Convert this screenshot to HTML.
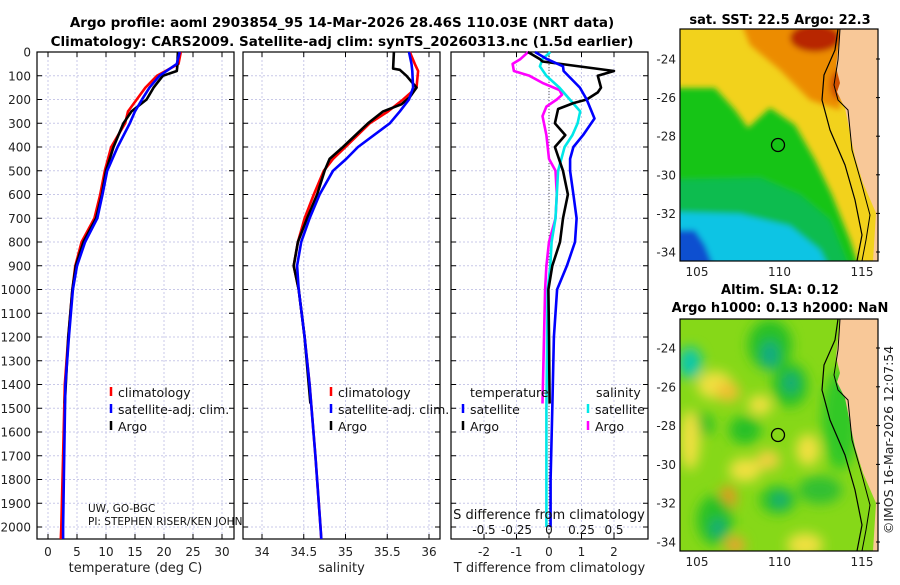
<!DOCTYPE html>
<html><head><meta charset="utf-8"><style>
body{margin:0;background:#fff;}
svg text{font-family:"DejaVu Sans","Liberation Sans",sans-serif;}
</style></head><body>
<svg id="chart" width="900" height="580" viewBox="0 0 900 580" xmlns="http://www.w3.org/2000/svg">
<defs>
<filter id="blur6" x="-20%" y="-20%" width="140%" height="140%"><feGaussianBlur stdDeviation="6"/></filter>
<filter id="blur3" x="-20%" y="-20%" width="140%" height="140%"><feGaussianBlur stdDeviation="3"/></filter>
<clipPath id="clipTop"><rect x="680" y="29" width="198" height="232"/></clipPath>
<clipPath id="clipBot"><rect x="680" y="319" width="198" height="232"/></clipPath>
</defs>
<g font-weight="bold" font-size="13.5" text-anchor="middle">
<text x="342" y="27">Argo profile: aoml 2903854_95 14-Mar-2026 28.46S 110.03E (NRT data)</text>
<text x="342" y="46">Climatology: CARS2009. Satellite-adj clim: synTS_20260313.nc (1.5d earlier)</text>
</g>
<g id="panels"></g>
<g id="maps"></g>
</svg>
<script>
// ---- data ----
const climTDepth=[0,50,100,150,200,250,300,400,500,600,700,800,900,1000,1200,1400,1700,2000,2050];
const climT=[22.9,22.5,18.8,16.8,15.3,13.8,13.3,10.9,9.8,9.0,8.0,5.8,4.7,4.2,3.5,2.9,2.6,2.3,2.2];
const satT=[22.7,22.2,19.2,17.5,16.2,15.0,14.1,12.0,10.2,9.4,8.5,6.4,5.0,4.3,3.6,3.0,2.8,2.6,2.6];
const argoTDepth=[0,60,80,100,150,200,250,300,400,500,600,700,800,900,1000,1200,1480];
const argoT=[22.4,22.3,22.2,19.8,18.2,17.0,14.4,13.0,11.3,10.0,9.3,8.3,6.1,4.8,4.2,3.5,2.9];
const climSDepth=[0,50,80,150,200,250,300,400,450,500,600,700,800,900,1000,1200,1400,1700,2000,2050];
const climS=[35.77,35.83,35.87,35.85,35.69,35.51,35.29,35.0,34.85,34.74,34.62,34.51,34.43,34.38,34.44,34.51,34.57,34.64,34.70,34.71];
const satS=[35.76,35.79,35.80,35.81,35.76,35.65,35.53,35.15,35.01,34.85,34.69,34.57,34.47,34.42,34.44,34.51,34.57,34.64,34.70,34.71];
const argoSDepth=[0,70,75,100,150,190,220,250,300,400,450,500,600,700,800,900,1000,1200,1480];
const argoS=[35.58,35.57,35.65,35.73,35.85,35.77,35.67,35.45,35.27,34.97,34.81,34.75,34.66,34.54,34.43,34.38,34.44,34.51,34.58];
const satDTDepth=[0,30,60,80,150,200,280,350,400,450,500,600,700,800,900,1000,1200,1500,1800,2000];
const satDT=[-0.43,-0.06,0.43,0.45,0.95,1.16,1.4,1.05,0.75,0.65,0.65,0.75,0.85,0.8,0.55,0.25,0.15,0.1,0.05,0.05];
const argoDTDepth=[0,30,40,80,100,150,170,200,215,240,300,350,400,500,600,700,800,900,1000,1200,1480];
const argoDT=[-0.65,-0.28,-0.2,2.0,1.5,1.6,1.5,1.16,0.75,0.28,0.18,0.5,0.18,0.43,0.58,0.43,0.34,0.1,-0.02,0.0,0.02];
const satDSDepth=[0,30,60,100,150,200,250,300,350,400,500,600,700,800,900,1000,1500,2000];
const satDS=[0.01,-0.05,-0.07,-0.02,0.08,0.16,0.24,0.22,0.18,0.12,0.07,0.06,0.05,0.02,0.01,-0.01,-0.02,-0.02];
const argoDSDepth=[0,30,50,80,100,130,160,180,200,230,270,350,450,500,600,700,800,900,1000,1480];
const argoDS=[-0.16,-0.22,-0.28,-0.27,-0.15,-0.05,0.08,0.1,0.06,-0.02,-0.05,-0.02,0.0,0.05,0.06,0.05,0.0,-0.02,-0.03,-0.05];
const depthTicks=[0,100,200,300,400,500,600,700,800,900,1000,1100,1200,1300,1400,1500,1600,1700,1800,1900,2000];
const tempTicks=[0,5,10,15,20,25,30];
const salTicks=[34,34.5,35,35.5,36];
const diffTicks=[-2,-1,0,1,2];
const sTickLabels=["-0.5","-0.25","0","0.25","0.5"];
const sTickValues=[-0.5,-0.25,0,0.25,0.5];
const latTicks=[-24,-26,-28,-30,-32,-34];
const lonTicks=[105,110,115];

const NS='http://www.w3.org/2000/svg';
function mk(tag,attrs,parent,txt){const e=document.createElementNS(NS,tag);for(const k in attrs)e.setAttribute(k,attrs[k]);if(txt!==undefined)e.textContent=txt;parent.appendChild(e);return e;}
const yD=d=>52+d*0.2375;
const TOP=52,BOT=539;
const panels=document.getElementById('panels');
const P=[
 {x0:37,x1:234,f:v=>48+v*5.8,ticks:tempTicks,lab:'temperature (deg C)',name:'temperature-panel'},
 {x0:243,x1:440,f:v=>262+(v-34)*83.5,ticks:salTicks,lab:'salinity',name:'salinity-panel'},
 {x0:451,x1:648,f:v=>549+v*32.5,ticks:diffTicks,lab:'T difference from climatology',name:'difference-panel'}
];
P.forEach((p,i)=>{
 const g=mk('g',{},panels);
 
 
 depthTicks.forEach(d=>{const l=mk('line',{x1:p.x0,x2:p.x1,y1:yD(d),y2:yD(d),stroke:'#c8c8e8','stroke-width':1,'stroke-dasharray':'2,2'},g);
  
  mk('line',{x1:p.x0,x2:p.x0+5,y1:yD(d),y2:yD(d),stroke:'#000'},g);mk('line',{x1:p.x1-5,x2:p.x1,y1:yD(d),y2:yD(d),stroke:'#000'},g);});
 p.ticks.forEach(v=>{const x=p.f(v);const l=mk('line',{x1:x,x2:x,y1:TOP,y2:BOT,stroke:'#c8c8e8','stroke-width':1,'stroke-dasharray':'2,2'},g);
  
  mk('line',{x1:x,x2:x,y1:BOT-5,y2:BOT,stroke:'#000'},g);mk('line',{x1:x,x2:x,y1:TOP,y2:TOP+5,stroke:'#000'},g);
  const t=mk('text',{x:x,y:556,'font-size':12,'text-anchor':'middle',fill:'#222'},g,String(v));
  });
 const r=mk('rect',{x:p.x0,y:TOP,width:p.x1-p.x0,height:BOT-TOP,fill:'none',stroke:'#000','stroke-width':1.2},g);
 
 const t=mk('text',{x:(p.x0+p.x1)/2,y:572,'font-size':13,'text-anchor':'middle',fill:'#222'},g,p.lab);
 
});
depthTicks.forEach(d=>{const t=mk('text',{x:31,y:yD(d)+4.5,'font-size':12,'text-anchor':'end',fill:'#222'},panels,String(d));
 });
const z=mk('line',{x1:549,x2:549,y1:TOP,y2:BOT,stroke:'#555','stroke-width':1,'stroke-dasharray':'1,2'},panels);

function series(depths,vals,f,color,name){
 const pts=depths.map((d,i)=>f(vals[i]).toFixed(1)+','+yD(d).toFixed(1)).join(' ');
 const pl=mk('polyline',{points:pts,fill:'none',stroke:color,'stroke-width':2.6,'stroke-linejoin':'round'},panels);
 
 
}
const fT=P[0].f,fS=P[1].f,fD=P[2].f,fDS=v=>549+v*130;
series(climTDepth,climT,fT,'#ff0000','climatology-temperature-line');
series(argoTDepth,argoT,fT,'#000','argo-temperature-line');
series(climTDepth,satT,fT,'#0000ff','satellite-temperature-line');
series(climSDepth,climS,fS,'#ff0000','climatology-salinity-line');
series(argoSDepth,argoS,fS,'#000','argo-salinity-line');
series(climSDepth,satS,fS,'#0000ff','satellite-salinity-line');
series(argoDSDepth,argoDS,fDS,'#ff00ff','argo-salinity-diff-line');
series(satDSDepth,satDS,fDS,'#00e8e8','satellite-salinity-diff-line');
series(argoDTDepth,argoDT,fD,'#000','argo-temperature-diff-line');
series(satDTDepth,satDT,fD,'#0000ff','satellite-temperature-diff-line');
function leg(x,y,color,label){const g=mk('g',{},panels);
 
 mk('line',{x1:x,x2:x,y1:y-10,y2:y-1,stroke:color,'stroke-width':2.5},g);
 mk('text',{x:x+7,y:y,'font-size':12.5,fill:'#111'},g,label);}
leg(111,397,'#ff0000','climatology');leg(111,414,'#0000ff','satellite-adj. clim.');leg(111,431,'#000','Argo');
leg(331,397,'#ff0000','climatology');leg(331,414,'#0000ff','satellite-adj. clim.');leg(331,431,'#000','Argo');
leg(463,414,'#0000ff','satellite');leg(463,431,'#000','Argo');
leg(588,414,'#00e8e8','satellite');leg(588,431,'#ff00ff','Argo');
[[470,397,'temperature'],[596,397,'salinity']].forEach(a=>{const t=mk('text',{x:a[0],y:a[1],'font-size':12.5,fill:'#111'},panels,a[2]);});
const sd=mk('text',{x:549,y:519,'font-size':13,'text-anchor':'middle',fill:'#111'},panels,'S difference from climatology');

sTickValues.forEach((v,i)=>{const t=mk('text',{x:fDS(v),y:534,'font-size':12,'text-anchor':'middle',fill:'#111'},panels,sTickLabels[i]);
 });
const u1=mk('text',{x:88,y:512,'font-size':10.5,fill:'#111'},panels,'UW, GO-BGC');
const u2=mk('text',{x:88,y:525,'font-size':10.5,fill:'#111'},panels,'PI: STEPHEN RISER/KEN JOHN');

// ---- maps ----
const maps=document.getElementById('maps');
const lonX=l=>697+(l-105)*16.5;
function mapFrame(y0,latY,name,title1,title2,kind){
 const g=mk('g',{},maps);
 const cg=mk('g',{'clip-path':kind==='sst'?'url(#clipTop)':'url(#clipBot)'},g);
 const H=232;
 if(kind==='sst'){
  mk('rect',{x:680,y:y0,width:198,height:H,fill:'#f2d21c'},cg);
  const b=mk('g',{filter:'url(#blur3)'},cg);
  mk('polygon',{points:'740,20 850,20 840,110 810,100 780,70 750,45',fill:'#ec8c00'},b);
  mk('ellipse',{cx:815,cy:38,rx:25,ry:14,fill:'#b82800'},b);
  mk('ellipse',{cx:838,cy:85,rx:8,ry:14,fill:'#d05000'},b);
  mk('polygon',{points:'670,88 715,88 735,110 748,128 770,108 795,125 815,160 832,195 850,240 860,270 670,270',fill:'#14c414'},b);
  mk('polygon',{points:'670,180 760,178 800,195 830,220 850,270 670,270',fill:'#08bc50'},b);
  mk('polygon',{points:'670,212 740,214 790,226 820,250 830,270 670,270',fill:'#10c4e4'},b);
  mk('polygon',{points:'670,230 695,230 705,245 715,270 670,270',fill:'#1050d0'},b);
 } else {
  mk('rect',{x:680,y:y0,width:198,height:H,fill:'#86d818'},cg);
  const b=mk('g',{filter:'url(#blur6)'},cg);
  [[770,345,22,25,'#28c028'],[770,355,8,14,'#10a888'],[690,363,12,16,'#10c8a8'],[790,385,18,22,'#28c028'],[791,383,7,10,'#10a880'],
   [715,385,18,14,'#f0e040'],[728,392,12,10,'#f0c030'],[700,425,14,12,'#28c028'],[745,430,16,14,'#28c028'],[760,405,12,10,'#f0e040'],
   [728,498,8,12,'#f09020'],[745,470,16,12,'#f0e040'],[768,460,12,10,'#f0d040'],[778,500,18,14,'#28c028'],[780,500,7,7,'#10a880'],
   [715,520,18,25,'#28c028'],[718,528,7,9,'#10a880'],[820,490,22,14,'#30c030'],[805,545,18,12,'#f0e040'],[690,440,10,30,'#f0e040'],
   [840,420,18,50,'#30c828'],[735,545,10,8,'#f0a030'],[808,450,12,16,'#f0e040']].forEach(e=>mk('ellipse',{cx:e[0],cy:e[1],rx:e[2],ry:e[3],fill:e[4]},b));
 }
 const o=y0-29;
 const land=mk('polygon',{points:`840,${o+20} 840,${o+30} 836,${o+67} 840,${o+83} 837,${o+92} 845,${o+108} 850,${o+133} 855,${o+157} 863,${o+183} 876,${o+213} 873,${o+261} 890,${o+270} 890,${o+20}`,fill:'#f8c898'},cg);
 
 mk('polyline',{points:`838,${o+29} 835,${o+50} 824,${o+75} 822,${o+100} 830,${o+130} 845,${o+165} 855,${o+200} 862,${o+235} 857,${o+261}`,fill:'none',stroke:'#000','stroke-width':1.2},cg);
 mk('polyline',{points:`840,${o+29} 838,${o+60} 834,${o+85} 838,${o+100} 848,${o+110} 852,${o+150} 862,${o+185} 870,${o+215} 866,${o+240} 862,${o+261}`,fill:'none',stroke:'#000','stroke-width':1},cg);
 const c=mk('circle',{cx:778,cy:o+145,r:6.5,fill:'none',stroke:'#000','stroke-width':1.3},g);
 
 mk('rect',{x:680,y:y0,width:198,height:H,fill:'none',stroke:'#000','stroke-width':1.2},g);
 latTicks.forEach(l=>{const y=latY(l);mk('line',{x1:876,x2:880,y1:y,y2:y,stroke:'#000'},g);
  const t=mk('text',{x:676,y:y+4.5,'font-size':12,'text-anchor':'end',fill:'#222'},g,String(l));});
 lonTicks.forEach(l=>{const x=lonX(l);
  const t=mk('text',{x:x,y:y0+H+15,'font-size':12,'text-anchor':'middle',fill:'#222'},g,String(l));});
 const t1=mk('text',{x:780,y:kind==='sst'?24:294,'font-size':13,'font-weight':'bold','text-anchor':'middle'},g,title1);
 if(title2){const t2=mk('text',{x:780,y:312,'font-size':13,'font-weight':'bold','text-anchor':'middle'},g,title2);}
}
mapFrame(29,l=>59+(-24-l)*19.3,'sst-map','sat. SST: 22.5 Argo: 22.3',null,'sst');
mapFrame(319,l=>348+(-24-l)*19.4,'sla-map','Altim. SLA: 0.12','Argo h1000: 0.13 h2000: NaN','sla');
const cr=mk('text',{x:0,y:0,'font-size':12.5,'text-anchor':'middle',fill:'#222',transform:'translate(893,440) rotate(-90)'},maps,'©IMOS 16-Mar-2026 12:07:54');


</script>
</body></html>
